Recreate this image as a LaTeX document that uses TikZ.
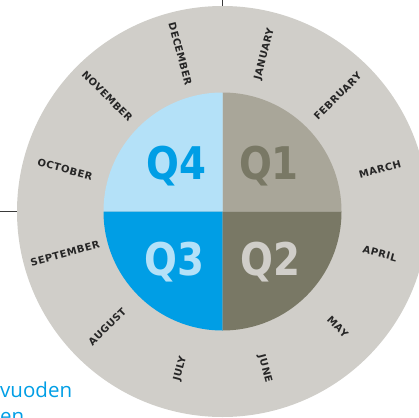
\documentclass[tikz,border=0pt]{standalone}
\usepackage{fontspec}
\setmainfont{DejaVu Sans}
\newfontfamily\monthfont{DejaVu Sans}[LetterSpace=5]
\newfontfamily\qfont{DejaVu Sans}
\newfontfamily\bodyfont{Open Sans}
\definecolor{band}{HTML}{D0CEC9}
\definecolor{qone}{HTML}{A9A699}
\definecolor{qtwo}{HTML}{797865}
\definecolor{qthree}{HTML}{009EE5}
\definecolor{qfour}{HTML}{B4E1F8}
\definecolor{monthtext}{HTML}{262626}
\definecolor{connline}{HTML}{3A3A3A}
\begin{document}
\begin{tikzpicture}[x=1pt,y=1pt,
  month/.style={font=\monthfont\bfseries\fontsize{10}{11}\selectfont, text=monthtext, inner sep=0pt},
  qlabel/.style={font=\qfont\bfseries\fontsize{45}{45}\selectfont, inner sep=0pt, anchor=base},
  conn/.style={line width=1.5pt, draw=connline},
  bodytext/.style={font=\bodyfont\fontsize{20.5}{24}\selectfont, text=qthree, anchor=base west, inner sep=0pt}
]
\useasboundingbox (0,-417) rectangle (419,0);
\coordinate (c) at (222.5,-211.5);
\node[circle, fill=band, minimum size=411pt, inner sep=0pt] (ring) at (c) {};
\fill[qone]   (c) -- ++(0:119)   arc[start angle=0,   end angle=90,  radius=119] -- cycle;
\fill[qfour]  (c) -- ++(90:119)  arc[start angle=90,  end angle=180, radius=119] -- cycle;
\fill[qthree] (c) -- ++(180:119) arc[start angle=180, end angle=270, radius=119] -- cycle;
\fill[qtwo]   (c) -- ++(270:119) arc[start angle=270, end angle=360, radius=119] -- cycle;
\node[qlabel, text=qthree] (q4) at (176.3,-179.5) {\scalebox{0.86}[1]{Q4}};
\node[qlabel, text=qtwo]   (q1) at (269,-179.5)   {\scalebox{0.86}[1]{Q1}};
\node[qlabel, text=qfour]  (q3) at (174.5,-275)   {\scalebox{0.86}[1]{Q3}};
\node[qlabel, text=band]   (q2) at (270.4,-275)   {\scalebox{0.86}[1]{Q2}};
\foreach \name/\ang/\rot in {JANUARY/75/75, FEBRUARY/45/45, MARCH/15/15, APRIL/-15/-15, MAY/-45/-45, JUNE/-75/-75, JULY/255/75, AUGUST/225/45, SEPTEMBER/195/15, OCTOBER/165/-15, NOVEMBER/135/-45, DECEMBER/105/-75}
  \node[month, rotate=\rot] (m\name) at ([shift={(\ang:163)}]c) {\name};
\coordinate (topend) at (222.5,0);
\coordinate (leftend) at (0,-211.5);
\draw[conn] (topend) -- (ring.north);
\draw[conn] (leftend) -- (ring.west);
\node[bodytext] (t1) at (0,-397.5) {vuoden};
\node[bodytext] (t2) at (0,-423) {en};
\end{tikzpicture}
\end{document}
